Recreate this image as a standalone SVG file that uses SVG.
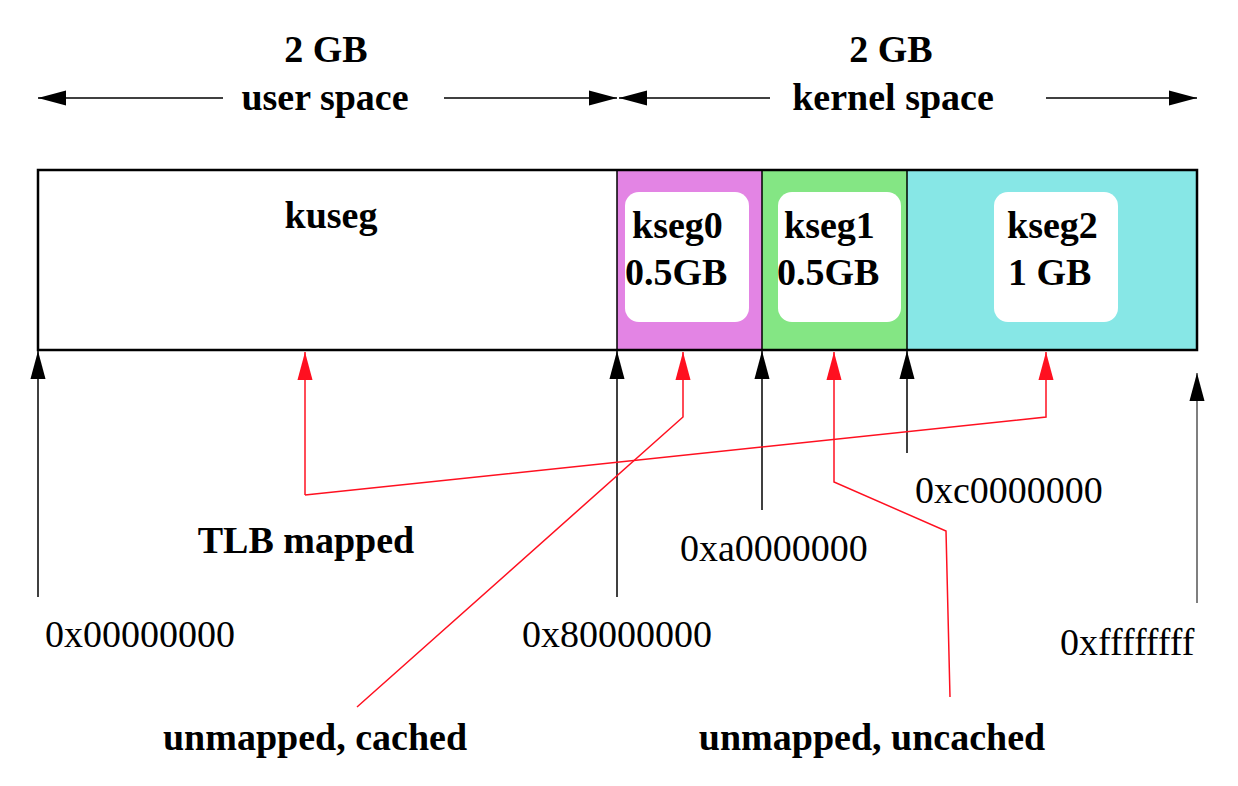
<svg xmlns="http://www.w3.org/2000/svg" width="1238" height="786" viewBox="0 0 1238 786">
<defs>
<marker id="ab" markerUnits="userSpaceOnUse" markerWidth="28" markerHeight="16" viewBox="0 0 26 14" refX="26" refY="7" orient="auto"><path d="M0,0 L26,7 L0,14 Z" fill="#000"/></marker>
<marker id="ar" markerUnits="userSpaceOnUse" markerWidth="28" markerHeight="16" viewBox="0 0 26 14" refX="26" refY="7" orient="auto"><path d="M0,0 L26,7 L0,14 Z" fill="#ff1020"/></marker>
<marker id="ag" markerUnits="userSpaceOnUse" markerWidth="28" markerHeight="16" viewBox="0 0 26 14" refX="26" refY="7" orient="auto"><path d="M0,0 L26,7 L0,14 Z" fill="#000"/></marker>
</defs>
<style>
text{font-family:"Liberation Serif","Times New Roman",serif;font-size:38px;fill:#000}
.b{font-weight:bold}
.m{text-anchor:middle}
.blk{stroke:#000;stroke-width:1.5;fill:none}
.red{stroke:#ff1020;stroke-width:1.5;fill:none}
.inner{fill:#fff;stroke:none}
</style>
<rect width="1238" height="786" fill="#fff"/>

<g id="kuseg">
<rect x="38" y="170" width="579" height="180" fill="#fff"/>
<text class="b m" x="331" y="228">kuseg</text>
</g>
<g id="kseg0">
<rect x="617" y="170" width="145" height="180" fill="#e384e4"/>
<rect class="inner" x="625" y="192" width="124" height="130" rx="14"/>
<text class="b" x="632" y="238">kseg0</text>
<text class="b" x="625" y="285">0.5GB</text>
</g>
<g id="kseg1">
<rect x="762" y="170" width="145" height="180" fill="#84e684"/>
<rect class="inner" x="778" y="192" width="123" height="130" rx="14"/>
<text class="b" x="784" y="238">kseg1</text>
<text class="b" x="777" y="285">0.5GB</text>
</g>
<g id="kseg2">
<rect x="907" y="170" width="290" height="180" fill="#87e7e6"/>
<rect class="inner" x="994" y="192" width="124" height="130" rx="14"/>
<text class="b" x="1007" y="238">kseg2</text>
<text class="b" x="1008" y="285">1 GB</text>
</g>
<g id="frame">
<rect x="38" y="170" width="1159" height="180" fill="none" stroke="#000" stroke-width="2.5"/>
<line x1="617" y1="170" x2="617" y2="350" stroke="#000" stroke-width="1.5"/>
<line x1="762" y1="170" x2="762" y2="350" stroke="#000" stroke-width="1.5"/>
<line x1="907" y1="170" x2="907" y2="350" stroke="#000" stroke-width="1.5"/>
</g>

<g id="labels">
<text class="b m" x="326" y="62">2 GB</text>
<text class="b m" x="325" y="110">user space</text>
<text class="b m" x="891" y="62">2 GB</text>
<text class="b m" x="893" y="110">kernel space</text>
<text class="b m" x="306" y="553">TLB mapped</text>
<text class="b m" x="315" y="750">unmapped, cached</text>
<text class="b m" x="872" y="750">unmapped, uncached</text>
<text x="45" y="647">0x00000000</text>
<text x="522" y="647">0x80000000</text>
<text x="680" y="561">0xa0000000</text>
<text x="915" y="503">0xc0000000</text>
<text x="1060" y="655">0xffffffff</text>
</g>

<g id="connectors">
<line class="blk" x1="223" y1="98" x2="38" y2="98" marker-end="url(#ab)"/>
<line class="blk" x1="444" y1="98" x2="617" y2="98" marker-end="url(#ab)"/>
<line class="blk" x1="770" y1="98" x2="619" y2="98" marker-end="url(#ab)"/>
<line class="blk" x1="1046" y1="98" x2="1197" y2="98" marker-end="url(#ab)"/>

<line class="blk" x1="38" y1="597" x2="38" y2="351" marker-end="url(#ab)"/>
<line class="blk" x1="617" y1="597" x2="617" y2="351" marker-end="url(#ab)"/>
<line class="blk" x1="762" y1="510" x2="762" y2="351" marker-end="url(#ab)"/>
<line class="blk" x1="907" y1="453" x2="907" y2="351" marker-end="url(#ab)"/>
<line x1="1197" y1="603" x2="1197" y2="373" stroke="#555" stroke-width="1.5" marker-end="url(#ag)"/>

<polyline class="red" points="305,495 305,352" marker-end="url(#ar)"/>
<polyline class="red" points="305,495 1046,417 1046,352" marker-end="url(#ar)"/>
<polyline class="red" points="357,707 683,417 683,352" marker-end="url(#ar)"/>
<polyline class="red" points="950,697 946,531 834,482 834,352" marker-end="url(#ar)"/>
</g>
</svg>
